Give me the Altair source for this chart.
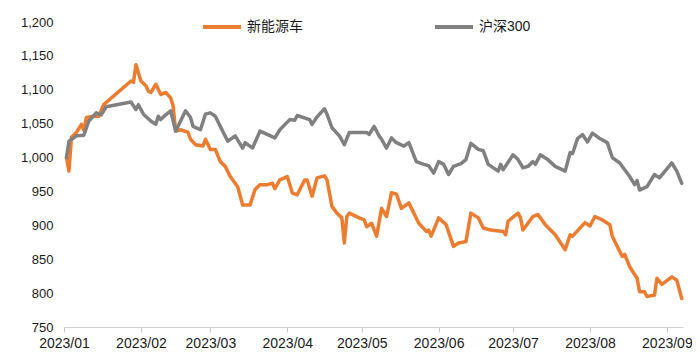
import altair as alt
import pandas as pd

# 新能源车 (orange)
nev_dates = [
    "2023/01/02", "2023/01/03", "2023/01/04", "2023/01/06", "2023/01/08", "2023/01/09", "2023/01/10",
    "2023/01/13", "2023/01/15", "2023/01/17", "2023/01/28", "2023/01/29", "2023/01/30", "2023/02/01",
    "2023/02/03", "2023/02/04", "2023/02/05", "2023/02/07", "2023/02/09", "2023/02/11", "2023/02/13",
    "2023/02/14", "2023/02/15", "2023/02/17", "2023/02/20", "2023/02/21", "2023/02/23", "2023/02/26",
    "2023/02/27", "2023/03/01", "2023/03/03", "2023/03/05", "2023/03/07", "2023/03/09", "2023/03/12",
    "2023/03/14", "2023/03/17", "2023/03/19", "2023/03/21", "2023/03/24", "2023/03/26", "2023/03/27",
    "2023/03/29", "2023/04/01", "2023/04/03", "2023/04/05", "2023/04/08", "2023/04/09", "2023/04/11",
    "2023/04/13", "2023/04/16", "2023/04/17", "2023/04/19", "2023/04/21", "2023/04/23", "2023/04/24",
    "2023/04/25", "2023/04/26", "2023/04/30", "2023/05/02", "2023/05/03", "2023/05/05", "2023/05/07",
    "2023/05/09", "2023/05/11", "2023/05/13", "2023/05/15", "2023/05/17", "2023/05/20", "2023/05/22",
    "2023/05/24", "2023/05/27", "2023/05/28", "2023/05/29", "2023/06/01", "2023/06/04", "2023/06/07",
    "2023/06/09", "2023/06/12", "2023/06/14", "2023/06/17", "2023/06/19", "2023/06/22", "2023/06/27",
    "2023/06/28", "2023/06/29", "2023/07/03", "2023/07/04", "2023/07/05", "2023/07/07", "2023/07/09",
    "2023/07/11", "2023/07/14", "2023/07/18", "2023/07/22", "2023/07/24", "2023/07/25", "2023/07/30",
    "2023/08/01", "2023/08/03", "2023/08/06", "2023/08/09", "2023/08/10", "2023/08/14", "2023/08/15",
    "2023/08/17", "2023/08/20", "2023/08/21", "2023/08/23", "2023/08/24", "2023/08/27", "2023/08/28",
    "2023/08/30", "2023/09/03", "2023/09/05", "2023/09/07",
]
nev_values = [
    1000, 980, 1030, 1037, 1049, 1040, 1059,
    1061, 1061, 1078, 1113, 1111, 1137, 1113,
    1106, 1098, 1096, 1108, 1093, 1096, 1088,
    1076, 1039, 1041, 1037, 1027, 1019, 1017,
    1027, 1012, 1012, 994, 987, 972, 957,
    930, 930, 953, 960, 960, 962, 954,
    967, 972, 948, 945, 967, 967, 943,
    970, 973, 967, 928, 918, 911, 874,
    913, 918, 911, 908, 898, 903, 884,
    925, 913, 948, 946, 925, 933, 918,
    903, 891, 893, 884, 911, 901, 869,
    874, 876, 918, 911, 896, 893, 891,
    886, 906, 918, 911, 893, 903, 913,
    916, 901, 886, 864, 886, 884, 904,
    899, 913, 908, 901, 884, 854, 857,
    839, 822, 802, 802, 795, 797, 822,
    813, 824, 819, 792,
]

# 沪深300 (gray)
hs_dates = [
    "2023/01/02", "2023/01/03", "2023/01/06", "2023/01/09", "2023/01/11", "2023/01/14", "2023/01/16",
    "2023/01/18", "2023/01/28", "2023/01/30", "2023/01/31", "2023/02/02", "2023/02/05", "2023/02/07",
    "2023/02/08", "2023/02/09", "2023/02/11", "2023/02/13", "2023/02/15", "2023/02/19", "2023/02/21",
    "2023/02/22", "2023/02/25", "2023/02/27", "2023/03/01", "2023/03/03", "2023/03/05", "2023/03/08",
    "2023/03/11", "2023/03/14", "2023/03/15", "2023/03/18", "2023/03/21", "2023/03/27", "2023/03/29",
    "2023/04/02", "2023/04/04", "2023/04/05", "2023/04/10", "2023/04/11", "2023/04/13", "2023/04/16",
    "2023/04/17", "2023/04/19", "2023/04/22", "2023/04/24", "2023/04/26", "2023/05/03", "2023/05/04",
    "2023/05/06", "2023/05/08", "2023/05/09", "2023/05/11", "2023/05/13", "2023/05/15", "2023/05/18",
    "2023/05/20", "2023/05/23", "2023/05/26", "2023/05/28", "2023/05/30", "2023/06/01", "2023/06/03",
    "2023/06/05", "2023/06/07", "2023/06/10", "2023/06/12", "2023/06/14", "2023/06/17", "2023/06/19",
    "2023/06/21", "2023/06/25", "2023/06/26", "2023/06/27", "2023/07/01", "2023/07/03", "2023/07/05",
    "2023/07/07", "2023/07/09", "2023/07/10", "2023/07/12", "2023/07/15", "2023/07/18", "2023/07/22",
    "2023/07/24", "2023/07/25", "2023/07/27", "2023/07/29", "2023/07/31", "2023/08/02", "2023/08/05",
    "2023/08/08", "2023/08/10", "2023/08/13", "2023/08/15", "2023/08/17", "2023/08/19", "2023/08/20",
    "2023/08/21", "2023/08/24", "2023/08/27", "2023/08/29", "2023/09/03", "2023/09/05", "2023/09/07",
]
hs_values = [
    1000, 1024, 1032, 1033, 1054, 1066, 1063,
    1075, 1082, 1071, 1078, 1064, 1054, 1049,
    1061, 1056, 1063, 1069, 1039, 1069, 1059,
    1046, 1041, 1064, 1066, 1061, 1046, 1024,
    1032, 1014, 1022, 1014, 1039, 1029, 1041,
    1056, 1055, 1062, 1056, 1049, 1060, 1072,
    1064, 1044, 1032, 1019, 1037, 1037, 1034,
    1046, 1032, 1027, 1014, 1029, 1022, 1017,
    1022, 994, 990, 988, 977, 994, 990,
    975, 987, 991, 997, 1021, 1012, 1010,
    990, 980, 990, 982, 1004, 997, 985,
    987, 994, 990, 1004, 997, 987, 980,
    1007, 1006, 1028, 1034, 1023, 1036, 1028,
    1022, 1000, 992, 982, 972, 960, 966,
    952, 957, 975, 970, 992, 980, 962,
]

series_names = ["新能源车", "沪深300"]
series_colors = ["#EC7C30", "#808080"]
y_ticks = [750, 800, 850, 900, 950, 1000, 1050, 1100, 1150, 1200]

nev_df = pd.DataFrame({"date": nev_dates, "value": nev_values, "series": series_names[0]})
hs_df = pd.DataFrame({"date": hs_dates, "value": hs_values, "series": series_names[1]})

FONT = "Arial, Liberation Sans, Noto Sans CJK SC, sans-serif"

x_enc = alt.X(
    "date:T",
    title=None,
    scale=alt.Scale(
        domain=[alt.DateTime(year=2023, month=1, date=1),
                alt.DateTime(year=2023, month=9, date=7, hours=12)],
        nice=False,
    ),
    axis=alt.Axis(
        values=[alt.DateTime(year=2023, month=m, date=1) for m in range(1, 10)],
        format="%Y/%m",
        grid=False,
        domainColor="#D0D0D0",
        domainWidth=1,
        tickColor="#C8C8C8",
        tickSize=5,
        labelFontSize=14,
        labelFont=FONT,
        labelColor="#1a1a1a",
        labelPadding=4,
        labelFlush=False,
        labelOverlap=False,
    ),
)
y_enc = alt.Y(
    "value:Q",
    title=None,
    scale=alt.Scale(domain=[750, 1200], nice=False, zero=False),
    axis=alt.Axis(
        values=y_ticks,
        format=",.0f",
        grid=False,
        domain=False,
        ticks=False,
        tickSize=0,
        labelFontSize=13,
        labelFont=FONT,
        labelColor="#1a1a1a",
        labelPadding=11,
    ),
)
color_enc = alt.Color(
    "series:N",
    scale=alt.Scale(domain=series_names, range=series_colors),
    legend=alt.Legend(
        title=None,
        orient="none",
        legendX=137,
        legendY=-16,
        direction="horizontal",
        symbolType="stroke",
        symbolSize=1444,
        symbolStrokeWidth=4,
        labelFontSize=14,
        labelFont=FONT,
        labelColor="#1a1a1a",
        labelOffset=4,
        columnPadding=124,
    ),
)

line_props = dict(strokeWidth=3.5, strokeJoin="round", strokeCap="round")

nev_line = alt.Chart(nev_df).mark_line(**line_props).encode(x=x_enc, y=y_enc, color=color_enc)
hs_line = alt.Chart(hs_df).mark_line(**line_props).encode(x=x_enc, y=y_enc, color=color_enc)

chart = (
    alt.layer(nev_line, hs_line)
    .properties(
        width=619,
        height=305,
        autosize=alt.AutoSizeParams(type="none"),
        padding={"left": 56, "top": 14, "right": 9, "bottom": 26},
        background="white",
    )
    .configure_view(stroke=None)
)

chart.save("out.html", embed_options={"renderer": "svg", "actions": False})
